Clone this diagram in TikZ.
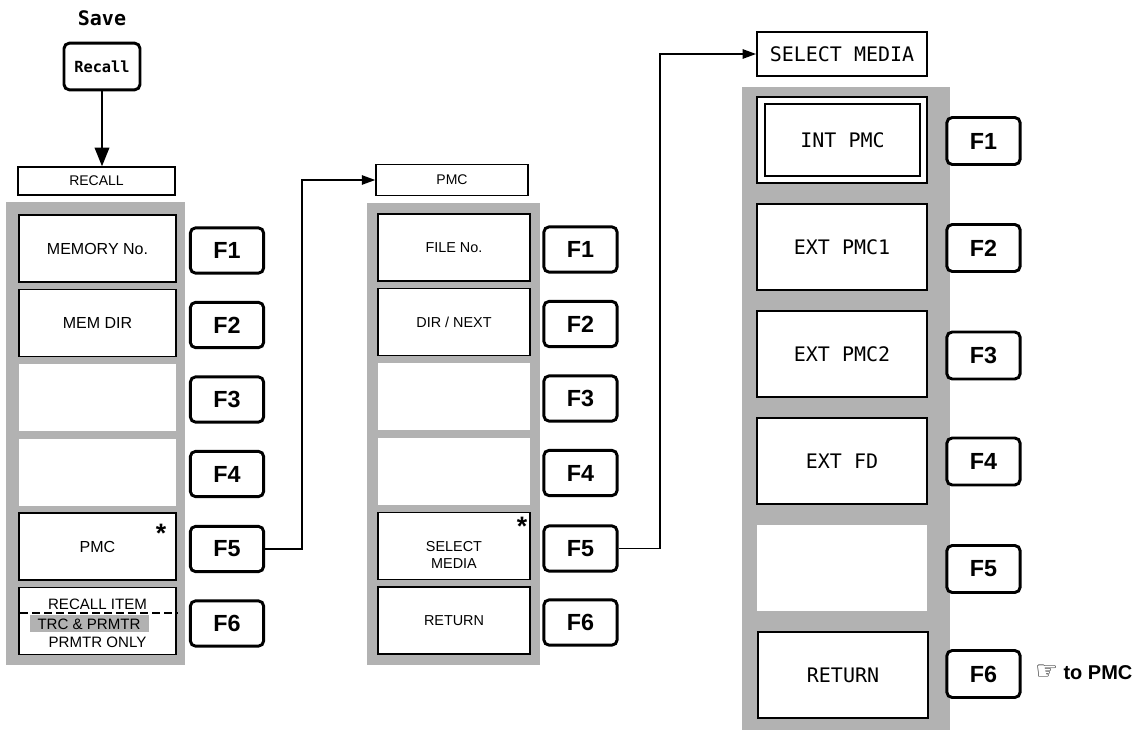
\documentclass[tikz,border=0pt]{standalone}
\usepackage{fontspec}
\setmainfont{Liberation Sans}
\newfontfamily\monof{DejaVu Sans Mono}
\newfontfamily\symf{DejaVu Sans}
\usetikzlibrary{arrows.meta}
\definecolor{panelgray}{gray}{0.70}
\tikzset{
 panel/.style={fill=panelgray},
 sbox/.style={draw, line width=1.4pt, fill=white, inner sep=0pt, align=center, font=\fontsize{10.8}{12.5}\selectfont},
 lbox/.style={sbox, minimum width=117.75pt, minimum height=50.25pt, font=\fontsize{12}{13}\selectfont},
 mbox/.style={sbox, minimum width=114pt, minimum height=50.25pt},
 rbox/.style={draw, line width=1.4pt, fill=white, inner sep=0pt, align=center, minimum width=127.5pt, minimum height=64.5pt, font=\monof\fontsize{15}{17}\selectfont},
 blank/.style={fill=white, inner sep=0pt},
 hdr/.style={draw, line width=1.1pt, fill=white, inner sep=0pt, font=\fontsize{10.5}{12.5}\selectfont},
 fkey/.style={draw, line width=2.2pt, rounded corners=4pt, fill=white, inner sep=0pt, minimum width=55pt, minimum height=34pt, font=\bfseries\fontsize{17.5}{17.5}\selectfont},
 conn/.style={line width=1.1pt},
 arr/.style={conn, -{Triangle[length=10pt,width=7pt]}},
 bigarr/.style={conn, -{Triangle[length=14pt,width=11pt]}},
 star/.style={inner sep=0pt, font=\bfseries\fontsize{20}{20}\selectfont},
 txt/.style={inner sep=0pt, font=\fontsize{11.3}{12.5}\selectfont},
}
\begin{document}
\begin{tikzpicture}[x=0.75pt,y=-0.75pt]
\useasboundingbox (0,0) rectangle (1139,735);

% ---------- top: Save / Recall key ----------
\node[inner sep=0pt, font=\monof\bfseries\fontsize{15}{15}\selectfont] (save) at (102,18) {Save};
\node[draw, line width=2.2pt, rounded corners=4pt, fill=white, inner sep=0pt,
      minimum width=57pt, minimum height=35pt, font=\monof\bfseries\fontsize{11.5}{11.5}\selectfont] (reckey) at (102,66.5) {Recall};

% ---------- left column: RECALL ----------
\node[hdr, minimum width=117.75pt, minimum height=21pt] (rechdr) at (96.5,181) {RECALL};
\draw[bigarr] (reckey.south) -- (reckey.south |- rechdr.north);

\fill[panel] (6,202) rectangle (185,665);
\node[lbox] (l1) at (97.5,248.5) {MEMORY No.};
\node[lbox] (l2) at (97.5,323) {MEM DIR};
\node[blank, minimum width=117.75pt, minimum height=50.25pt] (l3) at (97.5,397.5) {};
\node[blank, minimum width=117.75pt, minimum height=50.25pt] (l4) at (97.5,472) {};
\node[lbox] (l5) at (97.5,546.5) {PMC};
\node[lbox] (l6) at (97.5,621) {};
\node[star] (lstar) at (161,533) {*};
\node[txt] (l6a) at (97.5,604) {RECALL ITEM};
\fill[panelgray] (30,615) rectangle (149,632);
\node[txt] (l6b) at (89,624) {TRC \& PRMTR};
\node[txt] (l6c) at (97.5,642) {PRMTR ONLY};
\coordinate (dl) at (20,613);
\coordinate (dr) at (178,613);
\draw[line width=1.3pt, dash pattern=on 6pt off 3pt] (dl) -- (dr);

\node[fkey] (lf1) at (227,250.5) {F1};
\node[fkey] (lf2) at (227,325) {F2};
\node[fkey] (lf3) at (227,399.5) {F3};
\node[fkey] (lf4) at (227,474) {F4};
\node[fkey] (lf5) at (227,549) {F5};
\node[fkey] (lf6) at (227,623.5) {F6};

% ---------- middle column: PMC ----------
\node[hdr, minimum width=114pt, minimum height=23pt] (pmchdr) at (452,180) {PMC};
\fill[panel] (367,203) rectangle (540,665);
\node[mbox] (m1) at (454,247.5) {FILE No.};
\node[mbox] (m2) at (454,322) {DIR / NEXT};
\node[blank, minimum width=114pt, minimum height=50.25pt] (m3) at (454,396.5) {};
\node[blank, minimum width=114pt, minimum height=50.25pt] (m4) at (454,471) {};
\node[mbox] (m5) at (454,546) {\\[8pt]SELECT\\MEDIA};
\node[mbox] (m6) at (454,620.5) {RETURN};
\node[star] (mstar) at (522,526) {*};

\node[fkey] (mf1) at (580.5,249.5) {F1};
\node[fkey] (mf2) at (580.5,324) {F2};
\node[fkey] (mf3) at (580.5,398.5) {F3};
\node[fkey] (mf4) at (580.5,473) {F4};
\node[fkey] (mf5) at (580.5,548.5) {F5};
\node[fkey] (mf6) at (580.5,622.5) {F6};

% ---------- right column: SELECT MEDIA ----------
\node[draw, line width=1.4pt, fill=white, inner sep=0pt, minimum width=127.5pt, minimum height=33pt,
      font=\monof\fontsize{15}{17}\selectfont] (selhdr) at (842,54) {SELECT MEDIA};
\fill[panel] (742,87) rectangle (950,730);
\node[rbox] (r1) at (842,140) {};
\node[draw, line width=1.4pt, inner sep=0pt, minimum width=116.25pt, minimum height=54pt,
      font=\monof\fontsize{15}{17}\selectfont] (r1in) at (842.5,140) {INT PMC};
\node[rbox] (r2) at (842,247) {EXT PMC1};
\node[rbox] (r3) at (842,354) {EXT PMC2};
\node[rbox] (r4) at (842,461) {EXT FD};
\node[blank, minimum width=127.5pt, minimum height=64.5pt] (r5) at (842,568) {};
\node[rbox] (r6) at (843,675) {RETURN};

\node[fkey, minimum height=35.25pt] (rf1) at (983.5,141) {F1};
\node[fkey, minimum height=35.25pt] (rf2) at (983.5,248) {F2};
\node[fkey, minimum height=35.25pt] (rf3) at (983.5,355.5) {F3};
\node[fkey, minimum height=35.25pt] (rf4) at (983.5,461.5) {F4};
\node[fkey, minimum height=35.25pt] (rf5) at (983.5,569) {F5};
\node[fkey, minimum height=35.25pt] (rf6) at (983.5,674) {F6};

\node[inner sep=0pt, anchor=west, font=\bfseries\fontsize{15}{15}\selectfont] (topmc) at (1035,672) {{\symf\mdseries\fontsize{19}{19}\selectfont ☞} to PMC};

% ---------- connectors ----------
\coordinate (c1) at (302,0);
\draw[arr] (lf5.east) -- (lf5.east -| c1) |- (pmchdr.west);
\coordinate (c2) at (660,0);
\draw[arr] (mf5.east) -- (mf5.east -| c2) |- (selhdr.west);
\end{tikzpicture}
\end{document}
